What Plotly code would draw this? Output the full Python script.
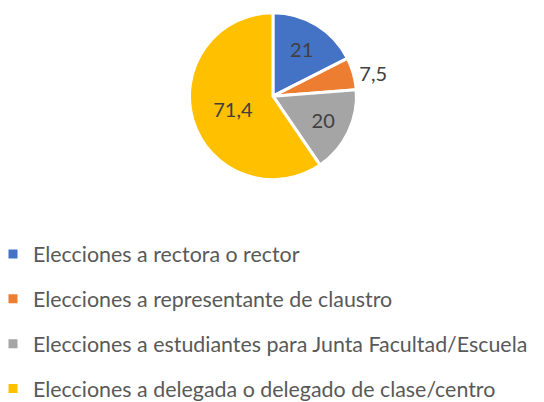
import plotly.graph_objects as go

categories = [
    "Elecciones a rectora o rector",
    "Elecciones a representante de claustro",
    "Elecciones a estudiantes para Junta Facultad/Escuela",
    "Elecciones a delegada o delegado de clase/centro",
]
values = [21, 7.5, 20, 71.4]
value_labels = ["21", "7,5", "20", "71,4"]
colors = ["#4472C4", "#ED7D31", "#A5A5A5", "#FFC000"]
text_positions = ["inside", "outside", "inside", "inside"]

W, H = 544, 402
FONT = "Lato"

fig = go.Figure()
fig.add_trace(go.Pie(
    labels=categories,
    values=values,
    text=value_labels,
    textinfo="text",
    textposition=text_positions,
    insidetextorientation="horizontal",
    sort=False,
    direction="clockwise",
    rotation=0,
    marker=dict(colors=colors, line=dict(color="white", width=3)),
    textfont=dict(family=FONT, size=20, color="#404040"),
    showlegend=False,
    domain=dict(x=[120 / W, 504 / W], y=[1 - 200 / H, 1 - 2 / H]),
    hoverinfo="label+text",
))

for cat, col in zip(categories, colors):
    fig.add_trace(go.Scatter(
        x=[None], y=[None], mode="markers", name=cat,
        legendgroup=cat,
        marker=dict(symbol="square", size=9, color=col),
    ))

fig.update_layout(
    width=W, height=H,
    margin=dict(l=0, r=0, t=0, b=0),
    paper_bgcolor="white", plot_bgcolor="white",
    xaxis=dict(visible=False), yaxis=dict(visible=False),
    legend=dict(
        x=0, xanchor="left", y=1 - 264 / H, yanchor="top",
        traceorder="grouped", tracegroupgap=14,
        indentation=-15,
        font=dict(family=FONT, size=21.4, color="#595959"),
        itemwidth=30,
        bgcolor="rgba(0,0,0,0)",
    ),
)

fig.write_html("out.html")
